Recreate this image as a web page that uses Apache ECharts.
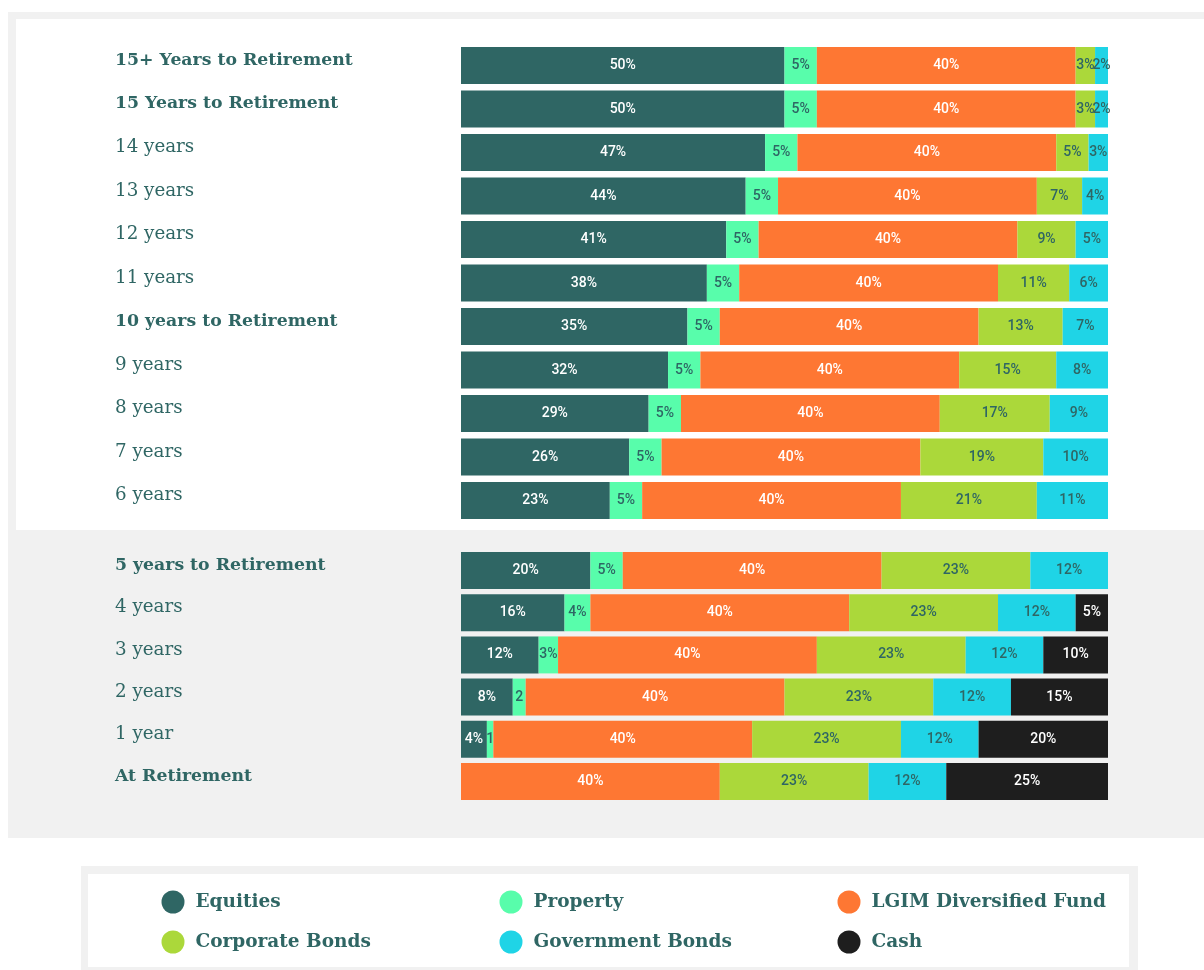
<!DOCTYPE html>
<html>
<head>
<meta charset="utf-8">
<script src="https://cdn.jsdelivr.net/npm/echarts@6/dist/echarts.min.js"></script>
<style>
  html, body { margin: 0; padding: 0; background: #fff; }
  #chart { width: 1204px; height: 970px; }
</style>
</head>
<body>
<div id="chart"></div>
<script>
// rows, top to bottom
var categories = [
  '15+ Years to Retirement', '15 Years to Retirement', '14 years', '13 years', '12 years',
  '11 years', '10 years to Retirement', '9 years', '8 years', '7 years', '6 years',
  '5 years to Retirement', '4 years', '3 years', '2 years', '1 year', 'At Retirement'
];
var milestones = ['15+ Years to Retirement', '15 Years to Retirement', '10 years to Retirement', '5 years to Retirement', 'At Retirement'];

var equities   = [50, 50, 47, 44, 41, 38, 35, 32, 29, 26, 23, 20, 16, 12, 8, 4, 0];
var property   = [5, 5, 5, 5, 5, 5, 5, 5, 5, 5, 5, 5, 4, 3, 2, 1, 0];
var lgim       = [40, 40, 40, 40, 40, 40, 40, 40, 40, 40, 40, 40, 40, 40, 40, 40, 40];
var corporate  = [3, 3, 5, 7, 9, 11, 13, 15, 17, 19, 21, 23, 23, 23, 23, 23, 23];
var government = [2, 2, 3, 4, 5, 6, 7, 8, 9, 10, 11, 12, 12, 12, 12, 12, 12];
var cash       = [0, 0, 0, 0, 0, 0, 0, 0, 0, 0, 0, 0, 5, 10, 15, 20, 25];

var splitAt = 11; // first panel holds 11 rows

var teal = '#2f6664';
var font = 'DejaVu Serif';

var assets = [
  { name: 'Equities', data: equities, color: '#2f6664', text: '#fff' },
  { name: 'Property', data: property, color: '#58fdab', text: teal },
  { name: 'LGIM Diversified Fund', data: lgim, color: '#fe7733', text: '#fff' },
  { name: 'Corporate Bonds', data: corporate, color: '#abd83a', text: teal },
  { name: 'Government Bonds', data: government, color: '#1fd4e6', text: teal },
  { name: 'Cash', data: cash, color: '#1e1e1e', text: '#fff' }
];

var chart = echarts.init(document.getElementById('chart'));

function makeSeries(gi, from, to) {
  return assets.map(function (a) {
    return {
      name: a.name,
      type: 'bar',
      stack: 'g' + gi,
      xAxisIndex: gi,
      yAxisIndex: gi,
      barWidth: 37,
      itemStyle: { color: a.color },
      label: {
        show: true,
        position: 'inside',
        color: a.text,
        fontFamily: 'Roboto',
        fontWeight: 500,
        fontSize: 14,
        formatter: function (p) {
          if (!p.value) return '';
          if (a.name === 'Property' && p.value < 3) return String(p.value);
          return p.value + '%';
        }
      },
      data: a.data.slice(from, to)
    };
  });
}

function yAxis(gi, cats) {
  return {
    type: 'category',
    gridIndex: gi,
    inverse: true,
    data: cats,
    axisLine: { show: false },
    axisTick: { show: false },
    axisLabel: {
      align: 'left',
      margin: 346,
      padding: [0, 0, 10, 0],
      formatter: function (v) {
        return milestones.indexOf(v) >= 0 ? '{b|' + v + '}' : '{n|' + v + '}';
      },
      rich: {
        b: { fontFamily: font, fontSize: 17.3, fontWeight: 'bold', color: teal },
        n: { fontFamily: font, fontSize: 18.3, color: teal }
      }
    }
  };
}

function xAxis(gi) {
  return {
    type: 'value',
    gridIndex: gi,
    min: 0,
    max: 100,
    show: false
  };
}

var legendSpots = [
  [161.5, 890.5], [499.5, 890.5], [837.5, 890.5],
  [161.5, 930.5], [499.5, 930.5], [837.5, 930.5]
];

chart.setOption({
  animation: false,
  graphic: [
    { type: 'rect', z: -10, shape: { x: 8, y: 12, width: 1196, height: 826 }, style: { fill: '#f1f1f1' } },
    { type: 'rect', z: -9, shape: { x: 16, y: 19, width: 1188, height: 511 }, style: { fill: '#ffffff' } },
    { type: 'rect', z: -10, shape: { x: 81, y: 866, width: 1057, height: 104 }, style: { fill: '#f1f1f1' } },
    { type: 'rect', z: -9, shape: { x: 88, y: 874, width: 1041, height: 93 }, style: { fill: '#ffffff' } }
  ],
  grid: [
    { left: 461, right: 96, top: 43.75, height: 478.5 },
    { left: 461, right: 96, top: 549.4, height: 253.2 }
  ],
  xAxis: [xAxis(0), xAxis(1)],
  yAxis: [yAxis(0, categories.slice(0, splitAt)), yAxis(1, categories.slice(splitAt))],
  legend: assets.map(function (a, i) {
    return {
      data: [a.name],
      left: legendSpots[i][0],
      top: legendSpots[i][1],
      padding: 0,
      icon: 'circle',
      itemWidth: 23,
      itemHeight: 23,
      selectedMode: false,
      textStyle: { fontFamily: font, fontSize: 18.5, fontWeight: 'bold', color: teal, padding: [0, 0, 0, 6] }
    };
  }),
  series: makeSeries(0, 0, splitAt).concat(makeSeries(1, splitAt, categories.length))
});
</script>
</body>
</html>
